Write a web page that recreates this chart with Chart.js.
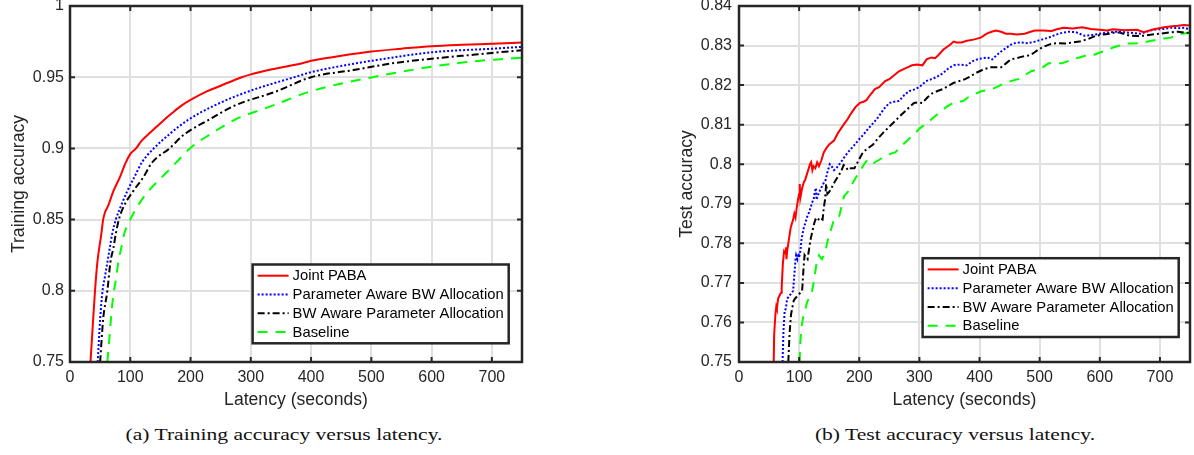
<!DOCTYPE html>
<html><head><meta charset="utf-8">
<script src="https://cdn.jsdelivr.net/npm/chart.js@4.4.1/dist/chart.umd.min.js"></script>
<style>
body{margin:0;background:#fff;width:1194px;height:455px;overflow:hidden;position:relative;font-family:"Liberation Sans",Arial,sans-serif;}
canvas{position:absolute;top:0;}
#c1{left:0;}
#c2{left:669px;}
.cap{position:absolute;top:425px;width:400px;text-align:center;font-family:"Liberation Serif","Times New Roman",serif;font-size:17px;line-height:20px;color:#111;transform:scaleX(1.27);transform-origin:center;white-space:nowrap;}
</style></head>
<body>
<canvas id="c1" width="540" height="420"></canvas>
<canvas id="c2" width="525" height="420"></canvas>
<div class="cap" style="left:84px">(a) Training accuracy versus latency.</div>
<div class="cap" style="left:755px">(b) Test accuracy versus latency.</div>
<script>
// ---------- tick labels ----------
const xTicks = [0,100,200,300,400,500,600,700];
const trainYTicks = [0.75,0.8,0.85,0.9,0.95,1];
const testYTicks = [0.75,0.76,0.77,0.78,0.79,0.8,0.81,0.82,0.83,0.84];
const seriesNames = ['Joint PABA','Parameter Aware BW Allocation','BW Aware Parameter Allocation','Baseline'];

// ---------- training accuracy ----------
const trainLatJoint = [34,38,41.5,45.4,52,55,58,63.6,72,83,92.4,100,109.6,118,130,143,156,170,185,200,227,250,285,300,340,387,400,450,500,550,600,650,700,750];
const trainAccJoint = [0.75,0.777,0.80,0.82,0.84,0.85,0.855,0.86,0.87,0.88,0.89,0.896,0.90,0.905,0.91,0.915,0.92,0.925,0.93,0.934,0.94,0.944,0.95,0.952,0.956,0.96,0.9615,0.965,0.968,0.970,0.9718,0.9728,0.9735,0.9743];
const trainLatParam = [46,50,54,58,62,66,70,76,85,95,107,119,139,165,196,239,296,376,400,485,500,600,700,750];
const trainAccParam = [0.75,0.78,0.80,0.81,0.82,0.83,0.84,0.85,0.86,0.87,0.88,0.89,0.90,0.91,0.92,0.93,0.94,0.9505,0.9535,0.9605,0.9615,0.9675,0.970,0.9713];
const trainLatBw = [50,55,62,67,72,76,81,90,105,122,136,165,190,230,273,342,400,470,539,600,650,700,750];
const trainAccBw = [0.75,0.78,0.80,0.82,0.83,0.84,0.85,0.86,0.87,0.88,0.89,0.90,0.91,0.92,0.93,0.94,0.95,0.955,0.96,0.963,0.965,0.967,0.969];
const trainLatBase = [62,66,70,73,77,80,85,90,100,113,130,153,176,199,233,273,336,399,502,645,750];
const trainAccBase = [0.75,0.77,0.79,0.80,0.81,0.82,0.83,0.84,0.85,0.86,0.87,0.88,0.89,0.90,0.91,0.92,0.93,0.94,0.95,0.96,0.9638];

// ---------- test accuracy ----------
const testLatJoint = [57.7,58.5,60.5,62,63,65,68,70,71,73,75,77,78,79,80,83,86,88,90,92,94,96,98,100,101,102,105,108,110,113,116,118,120,122,124,127,130,133,137,141,145,150,158,165,174,181,187,194,201,207,212,218,226,233,243,250,258,266,273,280,288,296,305,312,320,326,331,340,351,357,362,370,379,390,402,412,420,427,436,444,452,462,475,485,492,505,520,530,540,555,571,585,600,612,622,640,662,673,690,707,720,730,740,750];
const testAccJoint = [0.75,0.757,0.762,0.764,0.7635,0.766,0.767,0.7675,0.769,0.775,0.778,0.7775,0.779,0.776,0.778,0.781,0.784,0.785,0.786,0.7875,0.7865,0.789,0.791,0.7925,0.795,0.7915,0.794,0.7955,0.796,0.7975,0.799,0.8,0.8005,0.7985,0.7995,0.799,0.8005,0.7995,0.801,0.803,0.804,0.805,0.806,0.808,0.81,0.8115,0.813,0.8145,0.8155,0.8158,0.8162,0.8175,0.819,0.8195,0.821,0.8215,0.8225,0.8235,0.824,0.8245,0.825,0.8252,0.825,0.8265,0.827,0.8268,0.8275,0.829,0.8302,0.831,0.8308,0.8308,0.8312,0.8315,0.832,0.833,0.8335,0.8338,0.8335,0.833,0.833,0.8328,0.833,0.8335,0.8338,0.8338,0.8337,0.8342,0.8345,0.8343,0.8346,0.8342,0.834,0.8338,0.8341,0.8339,0.834,0.8334,0.8341,0.8346,0.8349,0.835,0.8352,0.8351];
const testLatParam = [72.4,74,76,78,80,83,85,88,90,92,94,95,97,99,100,102,104,107,110,112,114,117,119,122,124,126,128,129,131,135,140,144,147,151,154,158,162,167,174,181,190,198,207,215,224,232,241,250,258,266,275,283,294,302,311,320,328,339,348,357,368,379,388,396,405,413,421,428,436,445,455,467,481,492,503,515,523,532,540,549,560,574,585,600,613,628,645,668,680,690,705,718,730,741,750];
const testAccParam = [0.75,0.758,0.763,0.7635,0.766,0.7665,0.767,0.7675,0.768,0.772,0.776,0.777,0.776,0.7775,0.7765,0.778,0.781,0.7835,0.785,0.786,0.787,0.788,0.789,0.7905,0.791,0.793,0.794,0.791,0.792,0.7935,0.795,0.796,0.798,0.8,0.7995,0.7985,0.799,0.8,0.8015,0.803,0.8045,0.806,0.8075,0.809,0.8105,0.812,0.814,0.8155,0.8158,0.816,0.8175,0.8185,0.819,0.8198,0.821,0.8215,0.822,0.823,0.8242,0.825,0.8252,0.825,0.826,0.8265,0.8268,0.827,0.8265,0.8275,0.8285,0.8295,0.8305,0.8308,0.8306,0.831,0.8315,0.832,0.8325,0.833,0.8333,0.8335,0.8334,0.8325,0.8326,0.833,0.8333,0.8335,0.8333,0.833,0.8336,0.834,0.8342,0.8345,0.8344,0.8345,0.834];
const testLatBw = [82,84,86.5,89,91,93,96,99,102,105,107,109,111,114,116,119,122,125,127,130,134,139,141,143,145,147,150,154,157,161,165,169,172,174,177,181,186,192,199,206,214,223,231,240,250,260,268,277,284,291,298,305,314,322,330,339,348,356,366,376,385,393,400,407,418,428,436,444,452,461,471,481,489,498,508,520,530,543,555,566,580,594,606,617,625,633,642,650,661,673,687,701,715,730,740,750];
const testAccBw = [0.75,0.757,0.762,0.764,0.7655,0.766,0.7665,0.767,0.7675,0.768,0.773,0.777,0.7765,0.776,0.778,0.781,0.783,0.785,0.786,0.7855,0.7865,0.786,0.789,0.791,0.795,0.7925,0.793,0.794,0.795,0.796,0.797,0.798,0.799,0.7998,0.7995,0.7985,0.799,0.799,0.801,0.803,0.804,0.805,0.8065,0.808,0.8095,0.811,0.8122,0.8135,0.8145,0.8155,0.8156,0.8155,0.817,0.818,0.8185,0.819,0.8198,0.8205,0.821,0.8215,0.8222,0.823,0.8235,0.824,0.8245,0.8245,0.8245,0.8255,0.8265,0.8268,0.8272,0.8275,0.828,0.829,0.8298,0.8305,0.8306,0.8305,0.8308,0.831,0.8316,0.8325,0.8328,0.833,0.8333,0.8333,0.8328,0.8325,0.8324,0.8325,0.8328,0.833,0.8333,0.8335,0.8333,0.8332];
const testLatBase = [100.7,102,104,107.5,110,113,116,119,121,124,127,130,133,135,138,141,145,148,151,154,158,162,167,170,173,175,178,181,185,188,192,196,200,204,208,213,218,222,226,232,237,243,250,255,260,266,273,280,288,294,300,309,317,325,331,337,345,356,364,373,380,387,396,404,412,421,430,441,452,464,475,486,498,505,515,526,537,546,554,566,577,588,596,605,614,622,633,645,656,667,680,696,707,718,727,735,743,750];
const testAccBase = [0.75,0.755,0.759,0.762,0.763,0.765,0.766,0.767,0.7675,0.77,0.773,0.776,0.777,0.7765,0.776,0.777,0.779,0.781,0.7825,0.784,0.786,0.786,0.787,0.789,0.791,0.792,0.7925,0.793,0.794,0.795,0.796,0.797,0.798,0.799,0.8,0.801,0.8005,0.8,0.8005,0.801,0.8015,0.802,0.8025,0.8028,0.803,0.804,0.805,0.806,0.8072,0.808,0.809,0.81,0.811,0.812,0.8128,0.8135,0.8145,0.8155,0.8158,0.816,0.8168,0.8175,0.818,0.8185,0.8187,0.819,0.8196,0.8205,0.821,0.8215,0.8225,0.8235,0.824,0.8245,0.8255,0.8255,0.8255,0.826,0.8265,0.827,0.8275,0.8275,0.828,0.8285,0.829,0.8295,0.83,0.8305,0.8305,0.8306,0.831,0.8315,0.8318,0.832,0.8325,0.833,0.8331,0.8332];

// ---------- styles ----------
const lineStyles = [
  {color:'#ff0000', dash:[], width:2},
  {color:'#0000ff', dash:[2,2], width:2},
  {color:'#000000', dash:[7,3,2,3], width:2},
  {color:'#00ff00', dash:[10,8], width:2}
];
const INK = '#262626';
const SANS = '"Liberation Sans", Arial, sans-serif';

function pts(xs, ys){ return xs.map((v,i)=>({x:v, y:ys[i]})); }

function makeDatasets(pairs, smooth){
  return pairs.map((p,i)=>({
    label: seriesNames[i],
    data: pts(p[0], p[1]),
    borderColor: lineStyles[i].color,
    borderDash: lineStyles[i].dash,
    borderWidth: lineStyles[i].width,
    pointRadius: 0,
    fill: false,
    tension: 0,
    cubicInterpolationMode: smooth ? 'monotone' : 'default'
  }));
}

const framePlugin = {
  id: 'matlabFrame',
  afterDatasetsDraw(chart, args, opts){
    const {ctx, chartArea:a, scales:{x, y}} = chart;
    ctx.save();
    ctx.setLineDash([]);
    ctx.strokeStyle = INK;
    ctx.lineWidth = 2;
    ctx.beginPath();
    x.ticks.forEach(t=>{
      const px = x.getPixelForValue(t.value);
      ctx.moveTo(px, a.bottom); ctx.lineTo(px, a.bottom-5);
      ctx.moveTo(px, a.top); ctx.lineTo(px, a.top+5);
    });
    y.ticks.forEach(t=>{
      const py = y.getPixelForValue(t.value);
      ctx.moveTo(a.left, py); ctx.lineTo(a.left+5, py);
      ctx.moveTo(a.right, py); ctx.lineTo(a.right-5, py);
    });
    ctx.stroke();
    ctx.lineWidth = 2.5;
    ctx.strokeRect(a.left, a.top, a.right-a.left, a.bottom-a.top);

    // legend (inside, bottom-right)
    const fs = 14.8;
    ctx.font = fs + 'px ' + SANS;
    const ds = chart.data.datasets;
    let maxW = 0;
    ds.forEach(d=>{ maxW = Math.max(maxW, ctx.measureText(d.label).width); });
    const rowH = 18.8;
    const w = 5 + 31 + 4 + maxW + 5;
    const h = rowH*(ds.length-1) + 22.4;
    const bx = a.right - opts.offR - w;
    const by = a.bottom - opts.offB - h;
    ctx.fillStyle = '#fff';
    ctx.fillRect(bx, by, w, h);
    ds.forEach((d,i)=>{
      const cy = by + 11.2 + i*rowH;
      ctx.beginPath();
      ctx.strokeStyle = d.borderColor;
      ctx.lineWidth = d.borderWidth;
      ctx.setLineDash(d.borderDash);
      ctx.moveTo(bx+5, cy); ctx.lineTo(bx+36, cy);
      ctx.stroke();
      ctx.setLineDash([]);
      ctx.fillStyle = '#000';
      ctx.textBaseline = 'middle';
      ctx.textAlign = 'left';
      ctx.fillText(d.label, bx+40, cy+0.5);
    });
    ctx.strokeStyle = INK;
    ctx.lineWidth = 2.5;
    ctx.strokeRect(bx, by, w, h);
    ctx.restore();
  }
};

function makeChart(id, datasets, yMin, yMax, yTickVals, yTitle, cfg){
  return new Chart(document.getElementById(id), {
    type: 'line',
    data: { datasets },
    plugins: [framePlugin],
    options: {
      responsive: false,
      animation: false,
      layout: { padding: { left: 0, right: cfg.padR, top: 6, bottom: 0 } },
      plugins: {
        legend: { display: false },
        tooltip: { enabled: false },
        matlabFrame: { offR: cfg.offR, offB: cfg.offB }
      },
      scales: {
        x: {
          type: 'linear', min: 0, max: 750,
          afterBuildTicks: s => { s.ticks = xTicks.map(v=>({value:v})); },
          afterFit: s => { s.height = 58; s.paddingLeft = 0; s.paddingRight = 0; },
          border: { display: false },
          grid: { color: '#e0e0e0', lineWidth: 2, drawTicks: false },
          ticks: { color: INK, font: { family: SANS, size: 16 }, padding: 6, maxRotation: 0, callback: v => String(v) },
          title: { display: true, text: 'Latency (seconds)', color: INK, font: { family: SANS, size: 17.6 }, padding: { top: 0, bottom: 9.4 } }
        },
        y: {
          type: 'linear', min: yMin, max: yMax,
          afterBuildTicks: s => { s.ticks = yTickVals.map(v=>({value:v})); },
          afterFit: s => { s.width = 70; s.paddingTop = 0; s.paddingBottom = 0; },
          border: { display: false },
          grid: { color: '#e0e0e0', lineWidth: 2, drawTicks: false },
          ticks: { color: INK, font: { family: SANS, size: 16 }, padding: cfg.tickPad, callback: v => String(v) },
          title: { display: true, text: yTitle, color: INK, font: { family: SANS, size: 17.6 }, padding: { top: cfg.titlePad, bottom: 0 } }
        }
      }
    }
  });
}

makeChart('c1', makeDatasets([
  [trainLatJoint, trainAccJoint],
  [trainLatParam, trainAccParam],
  [trainLatBw, trainAccBw],
  [trainLatBase, trainAccBase]
], true), 0.75, 1, trainYTicks, 'Training accuracy', {padR: 18, offR: 13.3, offB: 18.7, tickPad: 6, titlePad: 9});

makeChart('c2', makeDatasets([
  [testLatJoint, testAccJoint],
  [testLatParam, testAccParam],
  [testLatBw, testAccBw],
  [testLatBase, testAccBase]
], false), 0.75, 0.84, testYTicks, 'Test accuracy', {padR: 4, offR: 11.3, offB: 25, tickPad: 7, titlePad: 7.5});
</script>
</body></html>
